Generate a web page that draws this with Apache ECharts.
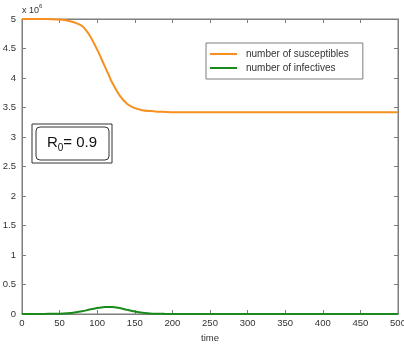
<!DOCTYPE html>
<html><head><meta charset="utf-8">
<script src="https://cdn.jsdelivr.net/npm/echarts@6/dist/echarts.min.js"></script>
<style>html,body{margin:0;padding:0;background:#fff}#c{width:404px;height:345px}</style>
</head><body><div id="c"></div>
<script>
const time = [0,10,20,30,40,50,60,70,80,90,100,110,115,120,130,140,150,160,170,180,190,200,250,300,350,400,450,500];
const susceptibles = [5,5,5,4.999,4.997,4.99,4.975,4.94,4.88,4.72,4.48,4.2,4.06,3.92,3.7,3.56,3.49,3.455,3.44,3.43,3.425,3.42,3.42,3.42,3.42,3.42,3.42,3.42];
const infectives = [0.001,0.001,0.002,0.002,0.003,0.005,0.012,0.025,0.045,0.075,0.1,0.118,0.12,0.117,0.1,0.07,0.042,0.02,0.009,0.004,0.002,0.001,0,0,0,0,0,0];
const xTicks = [0,50,100,150,200,250,300,350,400,450,500];
const yTicks = [0,0.5,1,1.5,2,2.5,3,3.5,4,4.5,5];

const font = 'Liberation Sans, Arial, sans-serif';
const axisCol = 'rgb(125,125,125)';
const chart = echarts.init(document.getElementById('c'), null, {renderer:'canvas'});
const pair = (xs, ys) => xs.map((x,i)=>[x, ys[i]]);
const mk = ()=>({axisLine:{show:true,onZero:false,lineStyle:{color:'rgb(125,125,125)',width:1,opacity:1}},
                  axisTick:{show:true,inside:true,length:4,lineStyle:{color:'rgb(125,125,125)',width:1,opacity:1}}});
chart.setOption({
  animation:false,
  backgroundColor:'#fff',
  grid:{left:22,right:6,top:19,bottom:31,show:true,borderColor:axisCol,borderWidth:1,outerBoundsMode:'none'},
  xAxis:[Object.assign({
    type:'value',min:0,max:500,interval:50,position:'bottom',gridIndex:0,
    axisLabel:{color:'#333',fontSize:9.5,fontFamily:font,margin:4,
      formatter:v=>xTicks.includes(v)?String(v):''},
    splitLine:{show:false},
    name:'time',nameLocation:'middle',nameGap:18,
    nameTextStyle:{color:'#333',fontSize:9.5,fontFamily:font}
  },mk()),Object.assign({
    type:'value',min:0,max:500,interval:50,position:'top',gridIndex:0,
    axisLabel:{show:false},splitLine:{show:false}
  },mk())],
  yAxis:[Object.assign({
    type:'value',min:0,max:5,interval:0.5,position:'left',gridIndex:0,
    axisLabel:{color:'#333',fontSize:9.5,fontFamily:font,margin:6,
      formatter:v=>yTicks.includes(v)?String(v):''},
    splitLine:{show:false}
  },mk()),Object.assign({
    type:'value',min:0,max:5,interval:0.5,position:'right',gridIndex:0,
    axisLabel:{show:false},splitLine:{show:false}
  },mk())],
  legend:{
    orient:'vertical',left:206,top:43,
    padding:[6,14,6,4],itemGap:4,
    itemWidth:27,itemHeight:2,icon:'rect',
    borderColor:axisCol,borderWidth:1,backgroundColor:'#fff',
    textStyle:{color:'#333',fontSize:10,fontFamily:font,padding:[0,0,0,4]},
    data:['number of susceptibles','number of infectives']
  },
  series:[
    {name:'number of susceptibles',type:'line',data:pair(time,susceptibles),smooth:0.3,
     symbol:'none',lineStyle:{color:'#f7901e',width:2},itemStyle:{color:'#f7901e'}},
    {name:'number of infectives',type:'line',data:pair(time,infectives),smooth:0.3,
     symbol:'none',lineStyle:{color:'#1a8a1a',width:2},itemStyle:{color:'#1a8a1a'}}
  ],
  graphic:[
    {type:'text',left:22,top:3,style:{
      text:'{a|x 10}{s|6}',
      rich:{a:{fontSize:9,fontFamily:font,fill:'#333',verticalAlign:'bottom'},
            s:{fontSize:6,fontFamily:font,fill:'#333',verticalAlign:'top',padding:[0,0,6,0]}}}},
    {type:'rect',shape:{x:32,y:124,width:80,height:39},style:{fill:'#fff',stroke:'#333',lineWidth:1}},
    {type:'rect',shape:{x:36,y:127,width:73,height:33,r:4},style:{fill:'none',stroke:'#333',lineWidth:1}},
    {type:'text',x:72,y:143,style:{
      text:'{a|R}{s|0}{a|= 0.9}',align:'center',verticalAlign:'middle',
      rich:{a:{fontSize:15,fontFamily:font,fill:'#111'},
            s:{fontSize:10,fontFamily:font,fill:'#111',padding:[10,0,0,0]}}}}
  ]
});
</script></body></html>
